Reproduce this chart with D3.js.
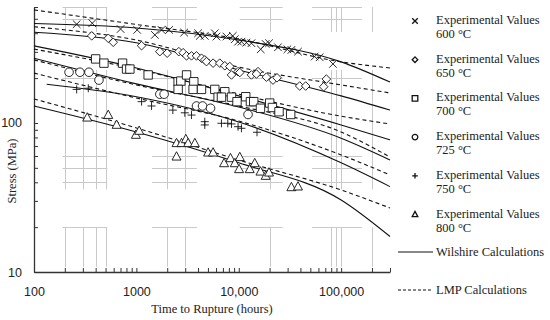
<!DOCTYPE html>
<html>
<head>
<meta charset="utf-8">
<script src="https://cdn.jsdelivr.net/npm/d3@7"></script>
<style>
	body { margin: 0; background: #fff; }
	svg { display: block; font-family: "Palatino Linotype", "Book Antiqua", Palatino, "Liberation Serif", serif; }
</style>
</head>
<body>
<svg id="chart" width="550" height="320"></svg>
<script>
// experimental rupture data, [hours, MPa]
const exp600 = [[261,460],[371,467],[701,427],[1018,421],[1515,390],[1762,421],[2089,421],[2927,404],[4009,400],[4164,384],[4656,384],[5834,400],[6056,380],[7586,380],[8740,384],[9141,365],[9840,351],[10620,351],[11890,346],[13300,343],[16390,312],[18320,339],[19750,343],[24150,322],[29850,312],[32660,309],[37890,301],[55080,279],[61660,276],[83180,249]]
const exp650 = [[366,384],[531,370],[594,348],[1124,330],[1694,301],[1998,294],[2598,301],[2862,296],[3089,282],[3455,282],[3864,282],[4325,272],[4656,265],[4840,258],[5613,252],[6526,252],[7303,242],[8170,239],[9840,221],[10230,218],[8490,210],[13300,210],[15420,221],[14880,213],[18620,203],[21610,194],[23640,201],[39360,177],[45040,177],[71730,197],[67500,175]]
const exp700 = [[400,269],[482,252],[733,252],[802,230],[864,230],[1303,210],[2557,189],[2717,191],[3090,210],[3640,189],[2557,168],[3581,168],[4325,168],[5834,168],[7303,162],[6283,149],[6776,149],[8490,149],[11700,150],[9610,139],[13000,139],[14000,139],[16290,125.5],[20050,136],[21310,127],[24720,119],[32140,114]]
const exp725 = [[220,219],[281,219],[344,219],[431,194],[1694,156],[1866,156],[3864,130],[4430,130],[5300,125.5],[12320,114]]
const exp750 = [[261,168],[339,171],[1124,139],[1406,130],[2270,122],[2972,117],[3455,113],[4656,102],[4656,97],[6776,99.5],[7810,99.5],[8490,98.5],[9840,94.4],[10620,92.1],[15070,86.6]]
const exp800 = [[331,108.5],[531,113],[641,97],[988,83.1],[1065,88.4],[2466,73.1],[2761,73.1],[3041,77.7],[3202,73.1],[3724,73.1],[2466,59.4],[5018,63.2],[5613,63.2],[7189,53.6],[8300,57.9],[9141,53.6],[10230,58.9],[10070,48.9],[12790,48.9],[14320,53.6],[16290,47.1],[18320,44.1],[19750,46.4],[32660,37],[37890,37.4]]

// Wilshire model curves
const wil600 = [[100,465],[1000,434],[10000,360],[100000,257],[300000,188]]
const wil650 = [[100,406],[1000,345],[10000,227],[100000,152],[300000,122]]
const wil700 = [[100,329],[1000,234],[10000,152],[100000,97],[300000,77]]
const wil725 = [[100,272],[1000,183],[10000,128],[100000,79],[300000,56.5]]
const wil750 = [[133,182],[1000,150],[10000,101.5],[100000,54],[300000,37.4]]
const wil800 = [[100,130],[1000,87],[10000,54],[100000,30.4],[300000,17.3]]

// Larson-Miller curves
const lmp600 = [[100,574],[1000,458],[10000,366],[100000,257],[300000,234]]
const lmp650 = [[100,442],[1000,360],[10000,237],[100000,180],[300000,159]]
const lmp700 = [[100,313],[1000,230],[10000,156],[100000,111],[300000,98.5]]
const lmp725 = [[100,265],[1000,180],[10000,130],[100000,87],[300000,59]]
const lmp750 = [[100,216],[1000,147],[10000,103],[100000,61],[300000,44.8]]
const lmp800 = [[100,145],[1000,92.6],[10000,56.4],[100000,35.5],[300000,26.9]]

const temps = ['600 °C', '650 °C', '700 °C', '725 °C', '750 °C', '800 °C']
const shapes = ['times', 'diamond', 'square', 'circle', 'plus', 'triangle']
const xTicks = [100, 1000, 10000, 100000]
const yTicks = [10, 100]

// faint partial gridlines behind the plot
const gridCols = [
	{ from: 190, to: 520, at: [200, 300, 400, 500] },
	{ from: 1420, to: 3900, at: [2000, 3000] },
	{ from: 10200, to: 26900, at: [20000] },
	{ from: 52000, to: 160000, at: [80000, 90000, 100000, 200000] }
]
const gridRows = [
	{ from: 600, to: 420, at: [600, 500] },
	{ from: 227, to: 37, at: [200, 60, 50, 40] },
	{ from: 20, to: 11.2, at: [20] }
]

const svg = d3.select('#chart')
const x = d3.scaleLog().domain([100, 300000]).range([34, 390])
const y = d3.scaleLog().domain([10, 600]).range([272, 7])
const fontSize = 12.5

// grid patches
const grid = svg.append('g').attr('stroke', '#c9c9c9').attr('stroke-width', 1)
gridCols.forEach((c) => {
	gridRows.forEach((r) => {
		c.at.forEach((v) => {
			grid.append('line')
				.attr('x1', Math.round(x(v)) + 0.5).attr('x2', Math.round(x(v)) + 0.5)
				.attr('y1', y(r.from)).attr('y2', y(r.to) + 2)
		})
		r.at.forEach((v) => {
			grid.append('line')
				.attr('x1', x(c.from)).attr('x2', x(c.to))
				.attr('y1', Math.round(y(v)) + 0.5).attr('y2', Math.round(y(v)) + 0.5)
		})
	})
})

// axes
const xAxis = d3.axisBottom(x)
	.tickValues(d3.range(2, 6).flatMap((e) => d3.range(1, 10).map((m) => m * Math.pow(10, e))).filter((v) => v <= 300000))
	.tickSizeInner(-4).tickSizeOuter(0)
	.tickFormat((d) => xTicks.includes(d) ? (d >= 10000 ? d3.format(',')(d) : String(d)) : '')
svg.append('g').attr('transform', 'translate(0,272)').call(xAxis)
	.call((g) => g.select('.domain').attr('stroke', '#333').attr('stroke-width', 1.3))
	.call((g) => g.selectAll('.tick line').attr('stroke', '#333'))
	.call((g) => g.selectAll('.tick text').attr('y', 15).attr('font-size', fontSize).attr('font-family', null).attr('fill', '#222'))

const yAxis = d3.axisLeft(y)
	.tickValues(d3.range(1, 3).flatMap((e) => d3.range(1, 10).map((m) => m * Math.pow(10, e))).filter((v) => v <= 600))
	.tickSizeInner(-4).tickSizeOuter(0)
	.tickFormat((d) => yTicks.includes(d) ? String(d) : '')
svg.append('g').attr('transform', 'translate(34,0)').call(yAxis)
	.call((g) => g.select('.domain').attr('stroke', '#333').attr('stroke-width', 1.3))
	.call((g) => g.selectAll('.tick line').attr('stroke', '#333'))
	.call((g) => g.selectAll('.tick text').attr('x', -12).attr('font-size', fontSize).attr('font-family', null).attr('fill', '#222'))

svg.append('text').attr('x', 212).attr('y', 313).attr('text-anchor', 'middle')
	.attr('font-size', fontSize).attr('fill', '#222').text('Time to Rupture (hours)')
svg.append('text').attr('transform', 'translate(16,171) rotate(-90)').attr('text-anchor', 'middle')
	.attr('font-size', fontSize).attr('fill', '#222').text('Stress (MPa)')

// model curves
const line = d3.line().x((d) => x(d[0])).y((d) => y(d[1])).curve(d3.curveMonotoneX)
const plot = svg.append('g')
;[wil600, wil650, wil700, wil725, wil750, wil800].forEach((d) => {
	plot.append('path').attr('d', line(d)).attr('fill', 'none').attr('stroke', '#111').attr('stroke-width', 1.1)
})
;[lmp600, lmp650, lmp700, lmp725, lmp750, lmp800].forEach((d) => {
	plot.append('path').attr('d', line(d)).attr('fill', 'none').attr('stroke', '#111').attr('stroke-width', 1.1)
		.attr('stroke-dasharray', '4,3')
})

// marker paths, centred on 0,0
function marker (shape, s) {
	switch (shape) {
	case 'times': return `M${-s},${-s}L${s},${s}M${-s},${s}L${s},${-s}`
	case 'plus': return `M${-s},0L${s},0M0,${-s}L0,${s}`
	case 'diamond': return `M0,${-s}L${s},0L0,${s}L${-s},0Z`
	case 'square': return `M${-s},${-s}H${s}V${s}H${-s}Z`
	case 'circle': return d3.arc()({ innerRadius: 0, outerRadius: s, startAngle: 0, endAngle: 2 * Math.PI })
	case 'triangle': return `M0,${-s * 1.1}L${s},${s * 0.75}L${-s},${s * 0.75}Z`
	}
}
const markerSize = { times: 3.8, plus: 4, diamond: 4.3, square: 4.2, circle: 4.3, triangle: 4.5 }

;[exp600, exp650, exp700, exp725, exp750, exp800].forEach((data, i) => {
	const shape = shapes[i]
	plot.append('g').selectAll('path').data(data).join('path')
		.attr('transform', (d) => `translate(${x(d[0])},${y(d[1])})`)
		.attr('d', marker(shape, markerSize[shape]))
		.attr('fill', '#fff').attr('stroke', '#111').attr('stroke-width', 0.9)
})

// legend
const legend = svg.append('g').attr('font-size', fontSize).attr('fill', '#222')
temps.forEach((t, i) => {
	const ly = 20 + i * 38.7
	legend.append('path').attr('transform', `translate(415,${ly + 1})`)
		.attr('d', marker(shapes[i], 2.8)).attr('fill', '#fff').attr('stroke', '#111').attr('stroke-width', 1.3)
	legend.append('text').attr('x', 436).attr('y', ly + 4).text('Experimental Values')
	legend.append('text').attr('x', 436).attr('y', ly + 18).text(t)
})
legend.append('line').attr('x1', 398).attr('x2', 433).attr('y1', 252).attr('y2', 252).attr('stroke', '#111')
legend.append('text').attr('x', 436).attr('y', 256).text('Wilshire Calculations')
legend.append('line').attr('x1', 398).attr('x2', 433).attr('y1', 290).attr('y2', 290).attr('stroke', '#111')
	.attr('stroke-dasharray', '3,2')
legend.append('text').attr('x', 436).attr('y', 294).text('LMP Calculations')
</script>
</body>
</html>
